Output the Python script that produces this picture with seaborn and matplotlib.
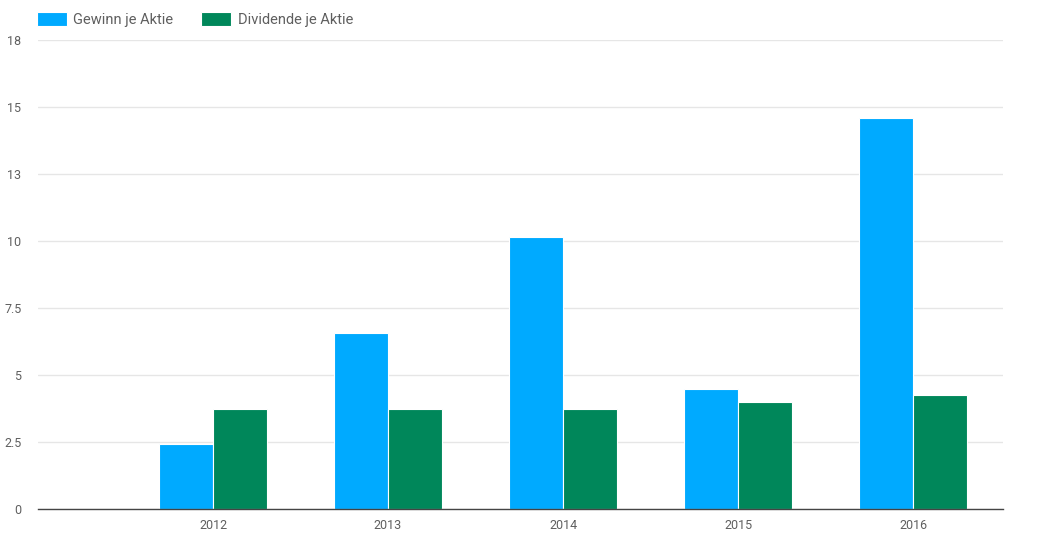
import matplotlib
matplotlib.use("Agg")
import matplotlib.pyplot as plt
import seaborn as sns
import pandas as pd

years = ["2012", "2013", "2014", "2015", "2016"]
gewinn = [2.41, 6.56, 10.14, 4.46, 14.58]
dividende = [3.72, 3.72, 3.72, 3.98, 4.24]
series_names = ["Gewinn je Aktie", "Dividende je Aktie"]
colors = ["#00aaff", "#00875a"]
y_ticks = [0, 2.5, 5, 7.5, 10, 12.5, 15, 17.5]
y_labels = ["0", "2.5", "5", "7.5", "10", "13", "15", "18"]

df = pd.DataFrame({
    "Jahr": years * 2,
    "Wert": gewinn + dividende,
    "Serie": [series_names[0]] * len(years) + [series_names[1]] * len(years),
})

sns.set_style("white")
plt.rcParams["font.family"] = ["Roboto", "DejaVu Sans"]

W, H = 1039, 548
fig = plt.figure(figsize=(W / 100, H / 100), dpi=100)
ax = fig.add_axes([38 / W, 1 - 509 / H, (1003 - 38) / W, (509 - 40) / H])

sns.barplot(data=df, x="Jahr", y="Wert", hue="Serie", order=years,
            hue_order=series_names, palette=colors, width=0.62,
            edgecolor="white", linewidth=0.8, saturation=1, ax=ax, zorder=3)

ax.set_xlim(-1, 4.514)
ax.set_ylim(0, 17.5)
ax.set_yticks(y_ticks)
ax.set_yticklabels(y_labels)
ax.grid(axis="y", color="#e6e6e6", linewidth=1, zorder=0)
ax.set_axisbelow(True)
for s in ["top", "right", "left"]:
    ax.spines[s].set_visible(False)
ax.spines["bottom"].set_color("#444444")
ax.spines["bottom"].set_linewidth(1)
ax.spines["bottom"].set_zorder(4)
ax.tick_params(axis="y", length=0, pad=12, labelsize=9, labelcolor="#5f5f5f")
ax.tick_params(axis="x", length=0, pad=7, labelsize=9, labelcolor="#5f5f5f")
ax.set_xlabel("")
ax.set_ylabel("")

handles, labels = ax.get_legend_handles_labels()
ax.legend(handles, labels, loc="lower left", bbox_to_anchor=(37 / W, 1 - 27 / H),
          bbox_transform=fig.transFigure, ncol=2, frameon=False,
          fontsize=10.5, labelcolor="#5f5f5f", handlelength=2.05,
          handleheight=1.03, handletextpad=0.45, columnspacing=1.9,
          borderpad=0, borderaxespad=0)

fig.savefig("out.png", dpi=100)
